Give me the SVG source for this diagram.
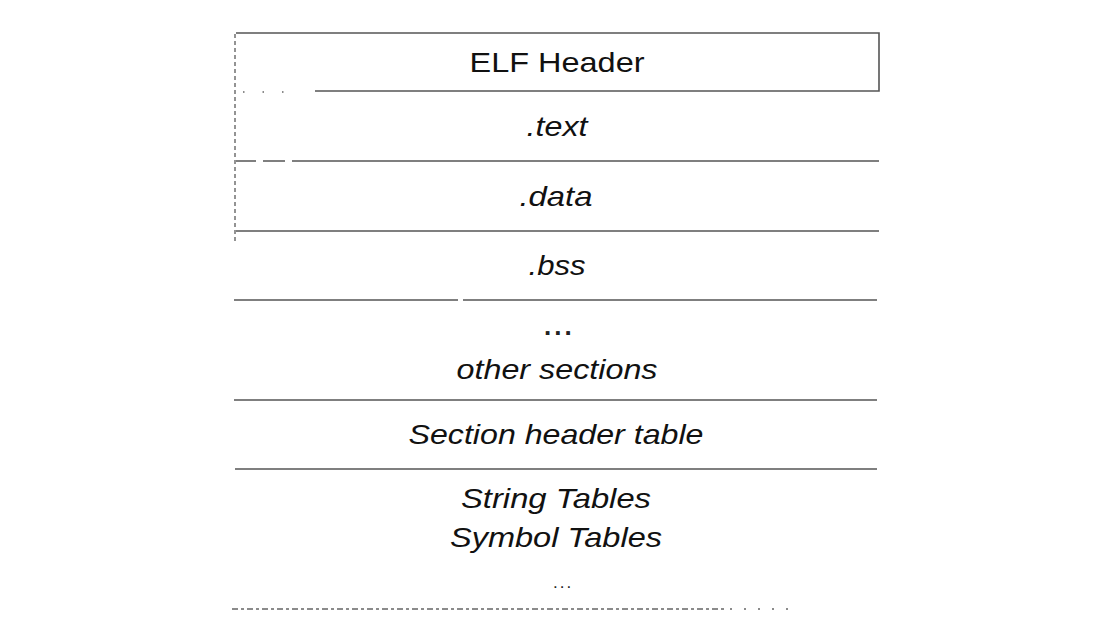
<svg xmlns="http://www.w3.org/2000/svg" width="1119" height="633" viewBox="0 0 1119 633">
<style>
.ln{stroke:#555;stroke-width:1.6;fill:none}
.dl{stroke:#666;stroke-width:1.4;fill:none;stroke-dasharray:4 3}
.t{font-family:"Liberation Sans",Arial,sans-serif;font-size:28px;fill:#111;text-anchor:middle}
.i{font-style:italic}
.d{font-family:"Liberation Sans",Arial,sans-serif;font-size:26px;font-weight:bold;fill:#222;text-anchor:start}
</style>
<rect width="1119" height="633" fill="#fff"/>
<g id="frame">
<path class="dl" d="M235,34 V242"/>
<path class="ln" d="M236,33 H879 V91 H315"/>
<path class="dl" d="M243,92 H300" style="stroke-dasharray:1.5 18"/>
</g>
<g id="connectors">
<path class="ln" d="M236,161 H256 M263,161 H285 M292,161 H879"/>
<path class="ln" d="M236,231 H879"/>
<path class="ln" d="M234,300 H458 M463,300 H877"/>
<path class="ln" d="M234,400 H877"/>
<path class="ln" d="M235,469 H877"/>
<path class="dl" d="M232,609 H726" style="stroke-dasharray:6 3 3 3"/>
<path class="dl" d="M730,609 H800" style="stroke-dasharray:2 12"/>
</g>
<g id="elf-header"><text class="t" x="557" y="72" textLength="175" lengthAdjust="spacingAndGlyphs">ELF Header</text></g>
<g id="text"><text class="t i" x="557" y="136" textLength="61" lengthAdjust="spacingAndGlyphs">.text</text></g>
<g id="data"><text class="t i" x="556" y="206" textLength="73" lengthAdjust="spacingAndGlyphs">.data</text></g>
<g id="bss"><text class="t i" x="557" y="275" textLength="57" lengthAdjust="spacingAndGlyphs">.bss</text></g>
<g id="other"><text class="d" x="544" y="335" style="letter-spacing:3px">...</text><text class="t i" x="557" y="379" textLength="201" lengthAdjust="spacingAndGlyphs">other sections</text></g>
<g id="sht"><text class="t i" x="556" y="444" textLength="295" lengthAdjust="spacingAndGlyphs">Section header table</text></g>
<g id="tables"><text class="t i" x="556" y="508" textLength="190" lengthAdjust="spacingAndGlyphs">String Tables</text><text class="t i" x="556" y="547" textLength="212" lengthAdjust="spacingAndGlyphs">Symbol Tables</text><text class="d" x="553" y="588" style="font-size:17px;font-weight:normal;letter-spacing:2px">...</text></g>
</svg>
